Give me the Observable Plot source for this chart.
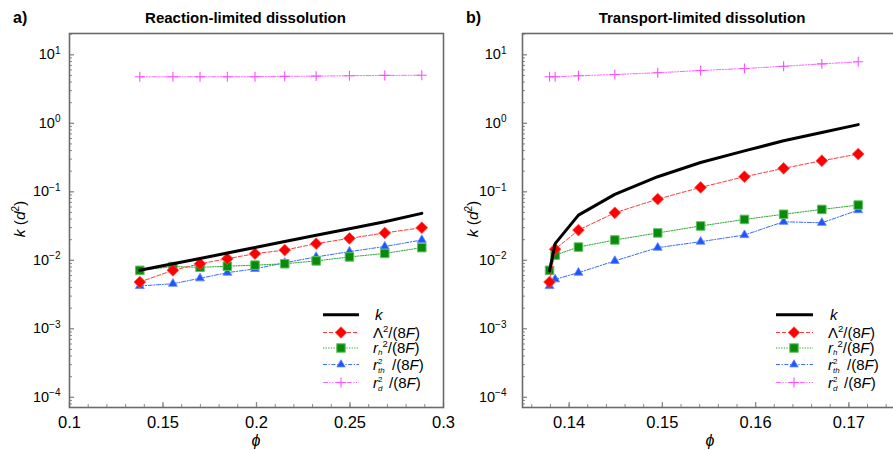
<!DOCTYPE html>
<html><head><meta charset="utf-8">
<script src="https://cdn.jsdelivr.net/npm/d3@7"></script>
<script src="https://cdn.jsdelivr.net/npm/@observablehq/plot@0.6"></script>
<style>
html,body{margin:0;padding:0;background:#fff;overflow:hidden}
#wrap{position:relative;width:893px;height:450px;overflow:hidden;font-family:"Liberation Sans",Arial,sans-serif}
#wrap > svg{position:absolute;top:0}
</style></head><body><div id="wrap"></div>
<script>
// ---- Panel a) Reaction-limited dissolution ----
const phiA    = [0.1376, 0.1553, 0.1698, 0.1844, 0.1992, 0.2151, 0.2319, 0.2497, 0.2686, 0.2884];
const kA      = [0.00714, 0.0089, 0.0106, 0.0128, 0.0154, 0.0188, 0.0232, 0.0289, 0.0366, 0.0484];
const lambdaA = [0.00482, 0.00714, 0.0089, 0.01055, 0.0125, 0.0141, 0.0175, 0.0209, 0.0251, 0.0299];
const rhA     = [0.00714, 0.0081, 0.0079, 0.0082, 0.0085, 0.0089, 0.0098, 0.0112, 0.0126, 0.0153];
const rthA    = [0.00422, 0.00455, 0.00546, 0.0066, 0.0075, 0.0092, 0.0112, 0.0134, 0.0159, 0.0198];
const rdA     = [4.77, 4.77, 4.78, 4.78, 4.79, 4.85, 4.88, 4.95, 5.0, 5.03];

// ---- Panel b) Transport-limited dissolution ----
const phiB    = [0.1379, 0.1385, 0.1410, 0.1449, 0.1495, 0.1541, 0.1588, 0.1630, 0.1671, 0.1710];
const kB      = [0.0070, 0.0175, 0.0457, 0.0916, 0.166, 0.268, 0.396, 0.555, 0.734, 0.957];
const lambdaB = [0.00482, 0.0145, 0.0276, 0.0494, 0.0782, 0.116, 0.166, 0.220, 0.284, 0.356];
const rhB     = [0.00714, 0.0119, 0.0156, 0.0198, 0.0251, 0.0317, 0.0395, 0.047, 0.0553, 0.064];
const rthB    = [0.00422, 0.00528, 0.0066, 0.0098, 0.0153, 0.0187, 0.0234, 0.0365, 0.0353, 0.054];
const rdB     = [4.77, 4.77, 4.94, 5.16, 5.46, 5.9, 6.3, 6.8, 7.37, 7.9];

// ---- Axis ticks ----
const xTicksA = [0.1, 0.15, 0.2, 0.25, 0.3];
const xTicksB = [0.14, 0.15, 0.16, 0.17];
const yTicks  = [1e-4, 1e-3, 1e-2, 1e-1, 1, 10];
const titles  = ["Reaction-limited dissolution", "Transport-limited dissolution"];
const panelTags = ["a)", "b)"];

const C = {
  red: "#ff0000", redLine: "#ff3b3b", redEdge: "#ff5050",
  green: "#0a8a0a", greenLine: "#2fa82f", greenEdge: "#5cc25c",
  blue: "#1f55ff", blueLine: "#3d6bff", blueEdge: "#5f86ff",
  mag: "#ff4dff", magLine: "#ff66ff"
};
const DASH = {red: "4,2", green: "1.3,1.3", blue: "4,1.6,1.2,1.6", mag: "5,1.5,1.2,1.5,1.2,1.5"};
const yDomain = [7.1e-5, 20.46];

function minorLog() {
  const out = [];
  for (let e = -5; e <= 1; e++) for (let m = 2; m <= 9; m++) {
    const v = m * Math.pow(10, e);
    if (v > yDomain[0] && v < yDomain[1]) out.push(v);
  }
  return out;
}
function rangeStep(a, b, s) {
  const out = [];
  const n = Math.round((b - a) / s);
  for (let i = 0; i <= n; i++) out.push(+(a + i * s).toFixed(6));
  return out;
}

function panel(o) {
  const rows = o.phi.map((p, i) => ({phi: p, k: o.k[i], lam: o.lam[i], rh: o.rh[i], rth: o.rth[i], rd: o.rd[i]}));
  const fw = o.width - o.ml - o.mr, fh = 450 - 33 - 43;
  const svg = Plot.plot({
    width: o.width, height: 450,
    marginLeft: o.ml, marginRight: o.mr, marginTop: 33, marginBottom: 43,
    style: {fontFamily: "Liberation Sans, Arial, sans-serif", fontSize: "14px", color: "#000", background: "transparent", overflow: "visible"},
    x: {domain: o.xDomain},
    y: {type: "log", domain: yDomain},
    marks: [
      Plot.tickX(o.xMinor, {x: d => d, stroke: "#8a8a8a", strokeWidth: 1, insetTop: fh - 3}),
      Plot.tickX(o.xTicks, {x: d => d, stroke: "#8a8a8a", strokeWidth: 1.3, insetTop: fh - 5}),
      Plot.tickY(minorLog(), {y: d => d, stroke: "#8a8a8a", strokeWidth: 1, insetRight: fw - 3}),
      Plot.tickY(yTicks, {y: d => d, stroke: "#8a8a8a", strokeWidth: 1.3, insetRight: fw - 5}),
      Plot.axisX(o.xTicks, {tickSize: 0, tickPadding: 9, tickFormat: d => String(d), label: null, fontSize: 16.5}),
      Plot.axisY(yTicks, {tickSize: 0, tickPadding: o.yPad, tickFormat: d => "10^" + Math.round(Math.log10(d)), label: null, fontSize: 14.5}),
      // r_d^2/(8F)
      Plot.line(rows, {x: "phi", y: "rd", stroke: C.magLine, strokeWidth: 1, strokeDasharray: DASH.mag}),
      Plot.dot(rows, {x: "phi", y: "rd", symbol: "plus", r: 3.3, stroke: C.mag, strokeWidth: 1.1}),
      // r_th^2/(8F)
      Plot.line(rows, {x: "phi", y: "rth", stroke: C.blueLine, strokeWidth: 1, strokeDasharray: DASH.blue}),
      Plot.dot(rows, {x: "phi", y: "rth", symbol: "triangle", r: 3.3, fill: C.blue, stroke: C.blueEdge, strokeWidth: 0.8}),
      // r_h^2/(8F)
      Plot.line(rows, {x: "phi", y: "rh", stroke: C.greenLine, strokeWidth: 1, strokeDasharray: DASH.green}),
      Plot.dot(rows, {x: "phi", y: "rh", symbol: "square", r: 4.8, fill: C.green, stroke: C.greenEdge, strokeWidth: 1}),
      // Lambda^2/(8F)
      Plot.line(rows, {x: "phi", y: "lam", stroke: C.redLine, strokeWidth: 1, strokeDasharray: DASH.red}),
      Plot.dot(rows, {x: "phi", y: "lam", symbol: "diamond2", r: 5.3, fill: C.red, stroke: C.redEdge, strokeWidth: 0.8}),
      // k
      Plot.line(rows, {x: "phi", y: "k", stroke: "#000", strokeWidth: 3}),
      Plot.frame({stroke: "#6b6b6b", strokeWidth: 1.6})
    ]
  });
  // superscript exponents on the y tick labels
  svg.querySelectorAll('g[aria-label="y-axis tick label"] text').forEach(t => {
    const s = t.textContent;
    if (!s.includes("^")) return;
    const e = s.split("^")[1].replace("-", "\u2212");
    t.textContent = "";
    const ns = "http://www.w3.org/2000/svg";
    const a = document.createElementNS(ns, "tspan"); a.textContent = "10";
    const b = document.createElementNS(ns, "tspan"); b.textContent = e;
    b.setAttribute("dy", "-5.5"); b.setAttribute("font-size", "10");
    t.appendChild(a); t.appendChild(b);
  });
  svg.style.left = o.left + "px";
  return svg;
}

const wrap = document.getElementById("wrap");
wrap.appendChild(panel({phi: phiA, k: kA, lam: lambdaA, rh: rhA, rth: rthA, rd: rdA,
  xDomain: [0.1, 0.3], xTicks: xTicksA, xMinor: rangeStep(0.1, 0.3, 0.01),
  width: 460, ml: 69, mr: 17, yPad: 9, left: 0}));
wrap.appendChild(panel({phi: phiB, k: kB, lam: lambdaB, rh: rhB, rth: rthB, rd: rdB,
  xDomain: [0.135, 0.175], xTicks: xTicksB, xMinor: rangeStep(0.136, 0.174, 0.002),
  width: 449, ml: 76, mr: 0, yPad: 16, left: 446}));

// ---- overlay: titles, axis labels, legends ----
function legend(x1, x2, xm, xt) {
  const rows = [314.7, 332.5, 348, 364.5, 382.5];
  const tri = (cx, cy) => `${cx},${cy - 4.8} ${cx - 4.2},${cy + 2.4} ${cx + 4.2},${cy + 2.4}`;
  let s = "";
  s += `<line x1="${x1}" x2="${x2}" y1="${rows[0]}" y2="${rows[0]}" stroke="#000" stroke-width="3"/>`;
  s += `<line x1="${x1}" x2="${x2}" y1="${rows[1]}" y2="${rows[1]}" stroke="${C.redLine}" stroke-dasharray="${DASH.red}"/>`;
  s += `<polygon points="${xm},${rows[1] - 5.8} ${xm + 5.8},${rows[1]} ${xm},${rows[1] + 5.8} ${xm - 5.8},${rows[1]}" fill="${C.red}" stroke="${C.redEdge}" stroke-width="0.8"/>`;
  s += `<line x1="${x1}" x2="${x2}" y1="${rows[2]}" y2="${rows[2]}" stroke="${C.greenLine}" stroke-dasharray="${DASH.green}"/>`;
  s += `<rect x="${xm - 4.2}" y="${rows[2] - 4.2}" width="8.4" height="8.4" fill="${C.green}" stroke="${C.greenEdge}"/>`;
  s += `<line x1="${x1}" x2="${x2}" y1="${rows[3]}" y2="${rows[3]}" stroke="${C.blueLine}" stroke-dasharray="${DASH.blue}"/>`;
  s += `<polygon points="${tri(xm, rows[3])}" fill="${C.blue}" stroke="${C.blueEdge}" stroke-width="0.8"/>`;
  s += `<line x1="${x1}" x2="${x2}" y1="${rows[4]}" y2="${rows[4]}" stroke="${C.magLine}" stroke-dasharray="${DASH.mag}"/>`;
  s += `<path d="M${xm - 5},${rows[4]}H${xm + 5}M${xm},${rows[4] - 5}V${rows[4] + 5}" stroke="${C.mag}" stroke-width="1.1"/>`;
  const b = rows.map(r => r + 5);
  s += `<g font-size="15">`;
  s += `<text x="${xt + 2}" y="${b[0]}" font-style="italic">k</text>`;
  s += `<text x="${xt}" y="${b[1]}">Λ<tspan dy="-6" font-size="9.5">2</tspan><tspan dy="6">/(8</tspan><tspan font-style="italic">F</tspan>)</text>`;
  s += `<text x="${xt}" y="${b[2]}"><tspan font-style="italic">r</tspan><tspan dy="1.5" font-size="8" font-style="italic">h</tspan><tspan dy="-7.5" font-size="9.5">2</tspan><tspan dy="6">/(8</tspan><tspan font-style="italic">F</tspan>)</text>`;
  s += `<text x="${xt}" y="${b[3]}"><tspan font-style="italic">r</tspan><tspan x="${xt + 5}" y="${b[3] - 6}" font-size="8">2</tspan><tspan x="${xt + 5}" y="${b[3] + 3}" font-size="8" font-style="italic">th</tspan><tspan x="${xt + 19}" y="${b[3]}">/(8</tspan><tspan font-style="italic">F</tspan>)</text>`;
  s += `<text x="${xt}" y="${b[4]}"><tspan font-style="italic">r</tspan><tspan x="${xt + 5}" y="${b[4] - 6}" font-size="8">2</tspan><tspan x="${xt + 5}" y="${b[4] + 3}" font-size="8" font-style="italic">d</tspan><tspan x="${xt + 16}" y="${b[4]}">/(8</tspan><tspan font-style="italic">F</tspan>)</text>`;
  s += `</g>`;
  return s;
}
function ylab(x) {
  return `<text transform="translate(${x},219) rotate(-90)" text-anchor="middle" font-size="15.5"><tspan font-style="italic">k</tspan> (<tspan font-style="italic">d</tspan><tspan dy="-6" font-size="10">2</tspan><tspan dy="6">)</tspan></text>`;
}
const ov = `<svg xmlns="http://www.w3.org/2000/svg" width="893" height="450" style="left:0;pointer-events:none" font-family="Liberation Sans, Arial, sans-serif">
  <text x="13" y="23" font-size="16" font-weight="bold">${panelTags[0]}</text>
  <text x="466" y="23" font-size="16" font-weight="bold">${panelTags[1]}</text>
  <text x="245.5" y="23" font-size="15" font-weight="bold" text-anchor="middle">${titles[0]}</text>
  <text x="702" y="23" font-size="15" font-weight="bold" text-anchor="middle">${titles[1]}</text>
  ${ylab(25)}${ylab(478)}
  <text x="256" y="446" font-size="16" font-style="italic" text-anchor="middle">ϕ</text>
  <text x="710" y="446" font-size="16" font-style="italic" text-anchor="middle">ϕ</text>
  ${legend(323, 359, 341, 373)}
  ${legend(776, 813, 794, 828)}
</svg>`;
wrap.insertAdjacentHTML("beforeend", ov);
</script></body></html>
